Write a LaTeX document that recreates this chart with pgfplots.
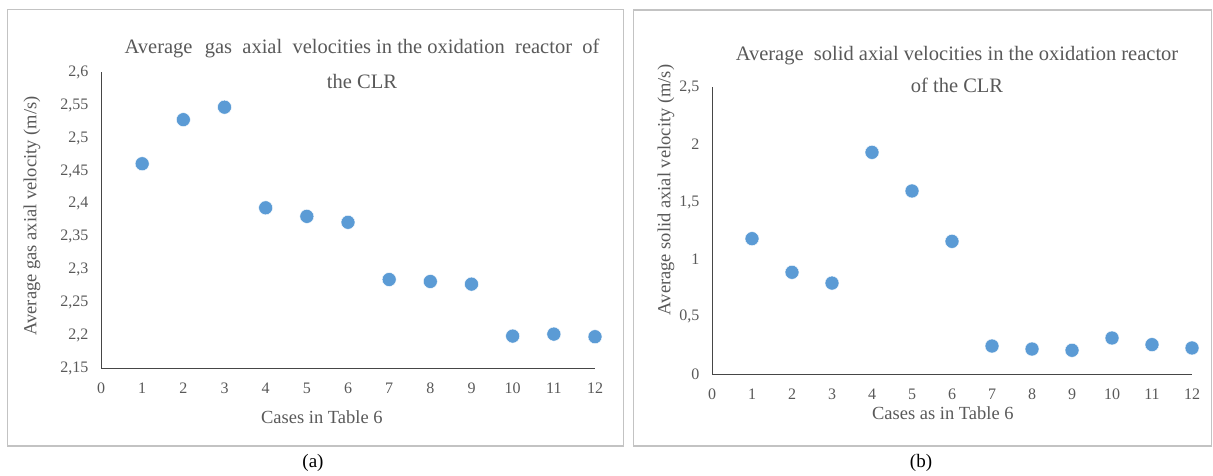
\documentclass[border=0pt]{standalone}
\usepackage{fontspec}
\setmainfont{Liberation Serif}
\usepackage{pgfplots}
\pgfplotsset{compat=1.18}
\definecolor{dotblue}{RGB}{91,155,213}
\definecolor{txtgray}{RGB}{89,89,89}
\definecolor{axgray}{RGB}{70,70,70}
\definecolor{boxgray}{RGB}{195,195,195}
\pgfplotsset{
  mystyle/.style={
    scale only axis,
    clip=false,
    axis x line=bottom, axis y line=left,
    axis line style={-, draw=axgray, line width=0.9pt},
    major tick length=0pt,
    xmin=0, xmax=12,
    xtick={0,1,...,12},
    /pgf/number format/assume math mode=true,
    tick label style={font=\fontsize{16}{18}\selectfont, text=txtgray},
    xticklabel style={yshift=-11pt},
    yticklabel style={xshift=-9pt},
    label style={font=\fontsize{18.5}{20}\selectfont, text=txtgray},
  }
}
\begin{document}
\begin{tikzpicture}
\path[use as bounding box] (0pt,0pt) rectangle (1213pt,-475pt);
\draw[boxgray, line width=1.2pt] (7.3pt,-9.5pt) rectangle (623.7pt,-446pt);
\draw[boxgray, line width=1.2pt] (633.7pt,-10pt) rectangle (1211.5pt,-446pt);

\begin{axis}[mystyle,
  at={(101pt,-368.3pt)}, anchor=south west,
  width=494pt, height=296pt,
  ymin=2.15, ymax=2.6,
  ytick={2.15,2.2,2.25,2.3,2.35,2.4,2.45,2.5,2.55,2.6},
  yticklabels={{2,15},{2,2},{2,25},{2,3},{2,35},{2,4},{2,45},{2,5},{2,55},{2,6}},
  xlabel={Cases in Table 6},
  xlabel style={at={(axis description cs:0.447,-0.1645)}, anchor=center},
  ylabel={Average gas axial velocity (m/s)},
  ylabel style={at={(axis description cs:-0.1397,0.5145)}, anchor=center, rotate=0},
]
\addplot[only marks, mark=*, mark size=7pt, mark options={fill=dotblue, draw=white, line width=0.4pt}]
coordinates {(1,2.461) (2,2.528) (3,2.547) (4,2.394) (5,2.381) (6,2.372) (7,2.285) (8,2.282) (9,2.278) (10,2.199) (11,2.202) (12,2.198)};
\end{axis}

\begin{axis}[mystyle,
  at={(712pt,-374pt)}, anchor=south west,
  width=480pt, height=286.7pt,
  ymin=0, ymax=2.5,
  ytick={0,0.5,1,1.5,2,2.5},
  yticklabels={0,{0,5},1,{1,5},2,{2,5}},
  xlabel={Cases as in Table 6},
  xlabel style={at={(axis description cs:0.481,-0.136)}, anchor=center},
  ylabel={Average solid axial velocity (m/s)},
  ylabel style={at={(axis description cs:-0.0958,0.642)}, anchor=center, rotate=0},
]
\addplot[only marks, mark=*, mark size=7pt, mark options={fill=dotblue, draw=white, line width=0.4pt}]
coordinates {(1,1.18) (2,0.887) (3,0.793) (4,1.933) (5,1.596) (6,1.157) (7,0.244) (8,0.218) (9,0.207) (10,0.314) (11,0.256) (12,0.227)};
\end{axis}

\begin{scope}[every node/.style={font=\fontsize{20.5}{23}\selectfont, text=txtgray, inner sep=0pt}]
\node[anchor=base] at (362pt,-53pt) {Average\hspace{0.6em}gas\hspace{0.5em}axial\hspace{0.5em}velocities in the oxidation\hspace{0.5em}reactor\hspace{0.5em}of};
\node[anchor=base] at (362pt,-88pt) {the CLR};
\node[anchor=base] at (957pt,-60.7pt) {Average\hspace{0.5em}solid axial velocities in the oxidation reactor};
\node[anchor=base] at (957pt,-92.7pt) {of the CLR};
\end{scope}
\node[font=\fontsize{19}{21}\selectfont, anchor=center] at (313pt,-463pt) {(a)};
\node[font=\fontsize{19}{21}\selectfont, anchor=center] at (921pt,-463pt) {(b)};
\end{tikzpicture}
\end{document}
